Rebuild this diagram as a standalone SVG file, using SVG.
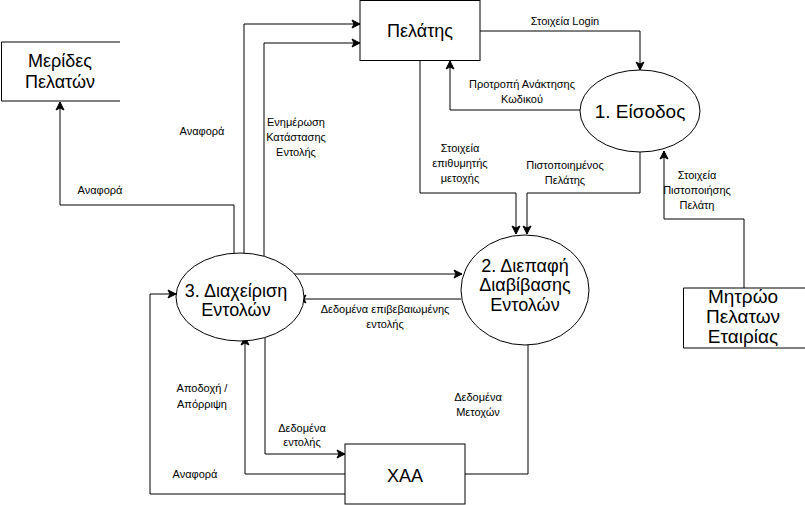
<svg xmlns="http://www.w3.org/2000/svg" width="805" height="505" viewBox="0 0 805 505">
<defs>
<marker id="ah" markerWidth="10" markerHeight="10" refX="9" refY="5" orient="auto" markerUnits="userSpaceOnUse">
<path d="M1,1 L9,5 L1,9 L3,5 Z" fill="#000" stroke="#000" stroke-width="1"/>
</marker>
<style>
.n{fill:#fff;stroke:#000;stroke-width:1}
.c{fill:none;stroke:#000;stroke-width:1;marker-end:url(#ah)}
.c2{fill:none;stroke:#000;stroke-width:1}
.t{font-family:"Liberation Sans",Arial,sans-serif;font-size:18px;text-anchor:middle;fill:#000}
.l{font-family:"Liberation Sans",Arial,sans-serif;font-size:11px;text-anchor:middle;fill:#000}
</style>
</defs>
<rect width="805" height="505" fill="#fff"/>
<g id="connectors">
<path class="c" d="M480,31 H640 V70"/>
<path class="c" d="M580,110 H450 V61"/>
<path class="c" d="M420,60 V193 H516 V234"/>
<path class="c" d="M640,150 V193 H527 V234"/>
<path class="c" d="M744,288 V219 H664 V151"/>
<path class="c" d="M234,257 V205 H60 V102"/>
<path class="c" d="M244,256 V24 H360"/>
<path class="c" d="M264,258 V43 H360"/>
<path class="c" d="M284,274 H462"/>
<path class="c" d="M461,299 H298"/>
<path class="c" d="M265,337 V454 H345"/>
<path class="c" d="M345,474 H245 V337"/>
<path class="c" d="M345,494 H150 V294 H176"/>
<path class="c" d="M465,474 H528 V336"/>
<text class="l" x="565" y="25">Στοιχεία Login</text>
<text class="l" x="522" y="88">Προτροπή Ανάκτησης</text>
<text class="l" x="522" y="103">Κωδικού</text>
<text class="l" x="460" y="152">Στοιχεία</text>
<text class="l" x="460" y="167">επιθυμητής</text>
<text class="l" x="460" y="182">μετοχής</text>
<text class="l" x="565" y="169">Πιστοποιημένος</text>
<text class="l" x="565" y="184">Πελάτης</text>
<text class="l" x="697" y="179">Στοιχεία</text>
<text class="l" x="697" y="194">Πιστοποιήσης</text>
<text class="l" x="697" y="209">Πελάτη</text>
<text class="l" x="202" y="135">Αναφορά</text>
<text class="l" x="296" y="126">Ενημέρωση</text>
<text class="l" x="296" y="141">Κατάστασης</text>
<text class="l" x="296" y="156">Εντολής</text>
<text class="l" x="100" y="194">Αναφορά</text>
<text class="l" x="385" y="313">Δεδομένα επιβεβαιωμένης</text>
<text class="l" x="385" y="328">εντολής</text>
<text class="l" x="202" y="392">Αποδοχή /</text>
<text class="l" x="202" y="408">Απόρριψη</text>
<text class="l" x="302" y="432">Δεδομένα</text>
<text class="l" x="302" y="446">εντολής</text>
<text class="l" x="195" y="478">Αναφορά</text>
<text class="l" x="478" y="401">Δεδομένα</text>
<text class="l" x="478" y="416">Μετοχών</text>
</g>
<g id="pelatis">
<rect class="n" x="360" y="0.5" width="120" height="60"/>
<text class="t" x="420" y="37">Πελάτης</text>
</g>
<g id="eisodos">
<ellipse class="n" cx="640" cy="111" rx="60" ry="41"/>
<text class="t" x="640" y="118" style="font-size:19px">1. Είσοδος</text>
</g>
<g id="diepafi">
<ellipse class="n" cx="525" cy="290" rx="64" ry="55"/>
<text class="t" x="525" y="272">2. Διεπαφή</text>
<text class="t" x="525" y="291">Διαβίβασης</text>
<text class="t" x="525" y="311">Εντολών</text>
</g>
<g id="diaxeirisi">
<ellipse class="n" cx="240" cy="297" rx="64" ry="44"/>
<text class="t" x="236" y="297">3. Διαχείριση</text>
<text class="t" x="236" y="316">Εντολών</text>
</g>
<g id="merides">
<path class="c2" d="M120,42 H1.5 V101 H120"/>
<text class="t" x="60" y="67">Μερίδες</text>
<text class="t" x="60" y="88">Πελατών</text>
</g>
<g id="mitroo">
<path class="c2" d="M805,288 H683.5 V348 H805"/>
<text class="t" x="743" y="303" style="font-size:19px">Μητρώο</text>
<text class="t" x="743" y="323" style="font-size:19px">Πελατων</text>
<text class="t" x="743" y="343" style="font-size:19px">Εταιρίας</text>
</g>
<g id="xaa">
<rect class="n" x="345" y="444" width="120" height="60"/>
<text class="t" x="405" y="482">ΧΑΑ</text>
</g>
</svg>
